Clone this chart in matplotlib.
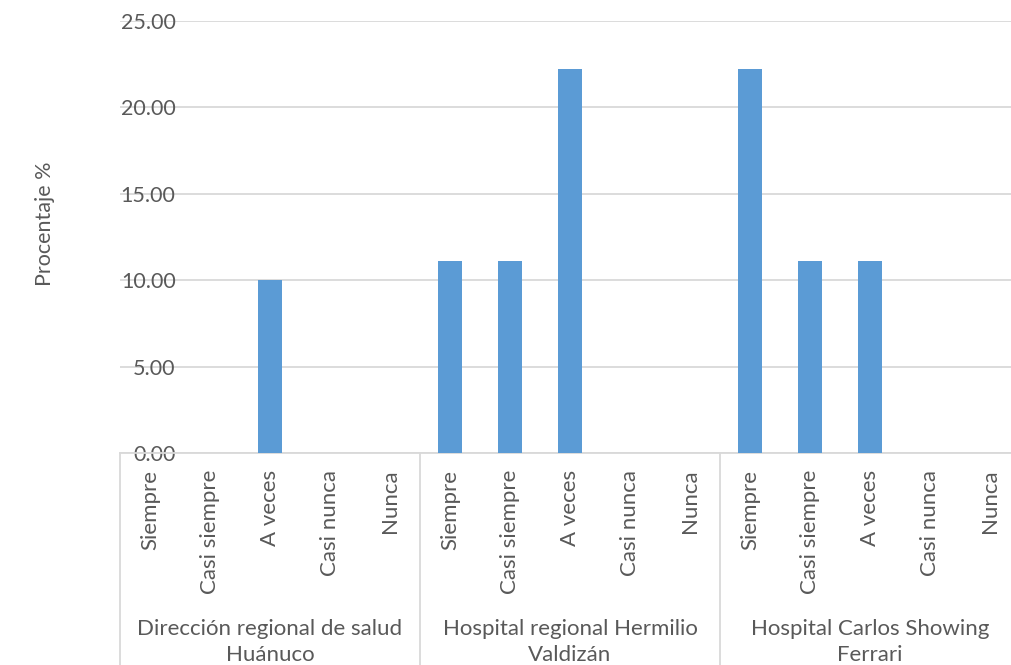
import matplotlib.pyplot as plt
import matplotlib.transforms as mtransforms

# survey answers per institution (percent)
groups = ["Dirección regional de salud\nHuánuco",
          "Hospital regional Hermilio\nValdizán",
          "Hospital Carlos Showing\nFerrari"]
answers = ["Siempre", "Casi siempre", "A veces", "Casi nunca", "Nunca"]
dir_regional = [0.00, 0.00, 10.00, 0.00, 0.00]
hosp_valdizan = [11.11, 11.11, 22.22, 0.00, 0.00]
hosp_ferrari = [22.22, 11.11, 11.11, 0.00, 0.00]
yticks = [0, 5, 10, 15, 20, 25]

plt.rcParams['font.family'] = ['Lato', 'DejaVu Sans']
txt = '#595959'
grid = '#D9D9D9'
blue = '#5B9BD5'

fig = plt.figure(figsize=(10.11, 6.65), dpi=100)
ax = fig.add_axes([120/1011, 212/665, 900/1011, 432/665])

values = dir_regional + hosp_valdizan + hosp_ferrari
labels = answers * len(groups)
x = list(range(len(values)))
ax.bar(x, values, width=0.4, color=blue, zorder=3)

ax.set_xlim(-0.5, len(values) - 0.5)
ax.set_ylim(0, 25)
ax.set_yticks(yticks)
ax.set_yticklabels([f"{v:.2f}" for v in yticks])
ax.yaxis.grid(True, color=grid, linewidth=1.3, zorder=0)
ax.tick_params(axis='y', length=0, pad=-40, labelsize=15.5, labelcolor=txt)

ax.set_xticks(x)
ax.set_xticklabels(labels, rotation=90, fontsize=16, color=txt)
ax.tick_params(axis='x', length=0, pad=12)

for s in ['top', 'right', 'left']:
    ax.spines[s].set_visible(False)
ax.spines['bottom'].set_color(grid)
ax.spines['bottom'].set_linewidth(1.3)

# group boxes under the category labels
trans = mtransforms.blended_transform_factory(ax.transData, ax.transAxes)
n = len(answers)
for i in range(len(groups) + 1):
    xb = i * n - 0.5
    ax.plot([xb, xb], [0, -0.6], color=grid, linewidth=1.3,
            transform=trans, clip_on=False)
for i, g in enumerate(groups):
    ax.text(i * n + (n - 1) / 2, -0.438, g, transform=trans, ha='center',
            va='center', fontsize=16, color=txt, linespacing=1.38)

fig.text(45/1011, 1 - 224/665, "Procentaje %", rotation=90, ha='center',
         va='center', fontsize=15.5, color=txt)

fig.savefig("out.png", dpi=100)
